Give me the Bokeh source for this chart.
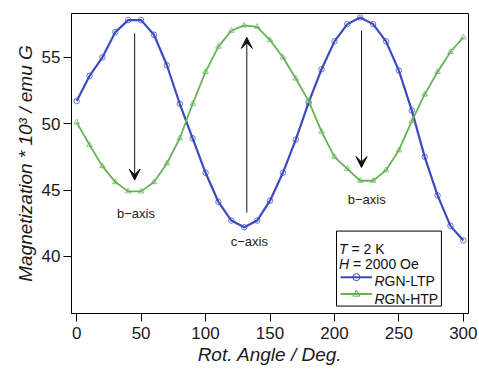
from bokeh.plotting import figure
from bokeh.models import FixedTicker, Label, Arrow, VeeHead, BoxAnnotation, Range1d
from bokeh.embed import file_html
from bokeh.resources import INLINE

# ---- data ----
angle = [0, 10, 20, 30, 40, 50, 60, 70, 80, 90, 100, 110, 120, 130, 140, 150,
         160, 170, 180, 190, 200, 210, 220, 230, 240, 250, 260, 270, 280, 290, 300]
ltp = [51.7, 53.6, 55.0, 56.9, 57.8, 57.8, 56.7, 54.4, 51.5, 48.9, 46.3, 44.1,
       42.7, 42.2, 42.7, 44.2, 46.3, 48.8, 51.6, 54.1, 56.2, 57.5, 58.0, 57.5,
       56.2, 54.0, 51.0, 47.5, 44.6, 42.3, 41.2]
htp = [50.1, 48.4, 46.8, 45.6, 44.9, 44.9, 45.6, 47.0, 48.9, 51.5, 53.9, 55.8,
       57.0, 57.4, 57.3, 56.3, 55.0, 53.4, 51.7, 49.4, 47.5, 46.6, 45.7, 45.7,
       46.5, 48.0, 50.2, 52.2, 53.9, 55.4, 56.5]
x_ticks = [0, 50, 100, 150, 200, 250, 300]
y_ticks = [40, 45, 50, 55]
series_names = ["RGN-LTP", "RGN-HTP"]
conditions = [("T", "= 2 K"), ("H", "= 2000 Oe")]
axis_notes = [("b\u2212axis", 46, 43.2), ("c\u2212axis", 134, 41.1), ("b\u2212axis", 225, 44.3)]
arrows = [(45, 56.8, 45.75), (132, 43.3, 56.5), (221, 57.0, 46.7)]
x_title = "Rot. Angle / Deg."
y_title = "Magnetization * 10\u00b3 / emu G"

BLUE = "#3a4bc0"
GREEN = "#66b257"
FONT = "Liberation Sans"

p = figure(width=479, height=370, output_backend="svg", toolbar_location=None,
           x_range=Range1d(-4, 304), y_range=Range1d(35.7, 58.3),
           min_border_left=71, min_border_right=11, min_border_top=13,
           min_border_bottom=57)
p.background_fill_color = "white"
p.border_fill_color = "white"
p.outline_line_color = "black"
p.outline_line_alpha = 1
p.outline_line_width = 1
p.xgrid.grid_line_color = None
p.ygrid.grid_line_color = None

for ax in (p.xaxis[0], p.yaxis[0]):
    ax.axis_line_color = "black"
    ax.major_tick_line_color = "black"
    ax.major_tick_in = 0
    ax.major_tick_out = 8
    ax.minor_tick_line_color = None
    ax.major_label_text_font = FONT
    ax.major_label_text_font_size = "17px"
    ax.major_label_text_color = "#1a1a1a"
    ax.axis_label_text_font = FONT
    ax.axis_label_text_font_size = "19px"
    ax.axis_label_text_font_style = "italic"
    ax.axis_label_text_color = "#1a1a1a"
p.xaxis.ticker = FixedTicker(ticks=x_ticks)
p.yaxis.ticker = FixedTicker(ticks=y_ticks)
p.xaxis.major_label_standoff = 5
p.yaxis.major_label_standoff = 3
p.xaxis.axis_label = x_title
p.yaxis.axis_label = y_title
p.xaxis.axis_label_standoff = 2
p.yaxis.axis_label_standoff = 3

# ---- series ----
p.line(angle, ltp, line_color=BLUE, line_width=2.2)
p.scatter(angle, ltp, marker="circle", size=5.5, fill_color=None,
          line_color=BLUE, line_width=1, line_alpha=0.75)
p.line(angle, htp, line_color=GREEN, line_width=1.8)
p.scatter(angle, htp, marker="triangle", size=5.5, fill_color=None,
          line_color=GREEN, line_width=1, line_alpha=0.75)

# ---- arrows ----
for ax_, y0, y1 in arrows:
    p.add_layout(Arrow(x_start=ax_, y_start=y0, x_end=ax_, y_end=y1,
                       line_color="#111111", line_width=1,
                       end=VeeHead(size=11, fill_color="#111111",
                                   line_color="#111111", line_width=1)))

for txt, xx, yy in axis_notes:
    p.add_layout(Label(x=xx, y=yy, text=txt, text_align="center",
                       text_baseline="middle", text_font=FONT,
                       text_font_size="13px", text_color="#222222"))

# ---- legend box ----
p.add_layout(BoxAnnotation(left=201.6, right=283, top=41.91, bottom=36.26,
                           fill_color="white", fill_alpha=1, level="underlay",
                           line_color="black", line_width=1, line_alpha=1))
for (sym, rest), yb in zip(conditions, [40.55, 39.42]):
    p.add_layout(Label(x=203.5, y=yb, text=sym, text_font=FONT,
                       text_font_style="italic", text_font_size="14px",
                       text_baseline="alphabetic", text_color="#111111"))
    p.add_layout(Label(x=203.5, y=yb, x_offset=(12.5 if sym == "T" else 14),
                       text=rest, text_font=FONT, text_font_size="14px",
                       text_baseline="alphabetic", text_color="#111111"))

for name, color, marker, yl, yb in zip(series_names, [BLUE, GREEN],
                                       ["circle", "triangle"],
                                       [38.44, 37.16], [38.14, 36.79]):
    p.line([204.7, 229.2], [yl, yl], line_color=color, line_width=2)
    p.scatter([217], [yl], marker=marker, size=7, fill_color=None,
              line_color=color, line_width=1)
    p.add_layout(Label(x=231, y=yb, text=name[0], text_font=FONT,
                       text_font_style="italic", text_font_size="14px",
                       text_baseline="alphabetic", text_color="#111111"))
    p.add_layout(Label(x=231, y=yb, x_offset=10.1, text=name[1:], text_font=FONT,
                       text_font_size="14px", text_baseline="alphabetic",
                       text_color="#111111"))

open("out.html", "w").write(file_html(p, INLINE))
